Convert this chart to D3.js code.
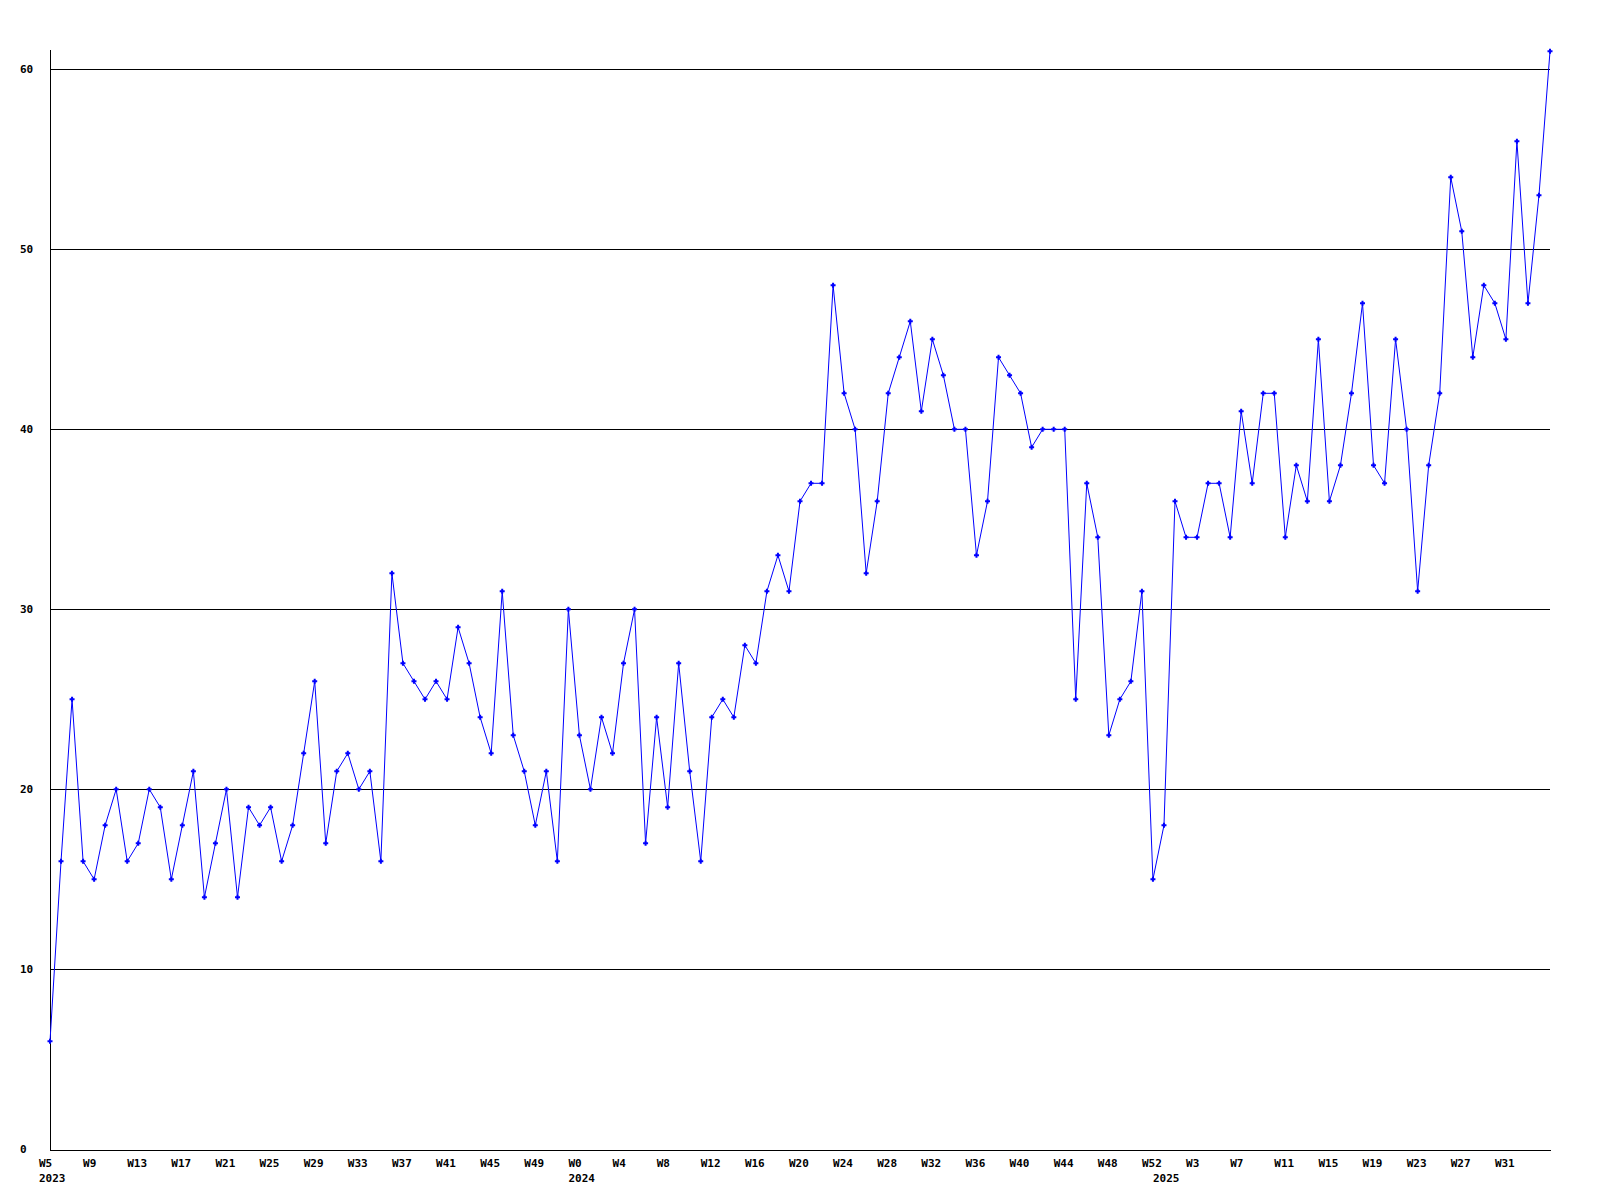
<!DOCTYPE html>
<html>
<head>
<meta charset="utf-8">
<script src="https://cdn.jsdelivr.net/npm/d3@7"></script>
<style>
  html, body { margin: 0; padding: 0; background: #ffffff; }
  svg { display: block; }
  text { font-family: "DejaVu Sans Mono", "Liberation Mono", monospace; font-weight: bold; font-size: 11px; fill: #000; }
</style>
</head>
<body>
<svg id="chart" width="1600" height="1200"></svg>
<script>
// ---- data ----
const years = [2023, 2024, 2025];
const weeks2023 = [5,6,7,8,9,10,11,12,13,14,15,16,17,18,19,20,21,22,23,24,25,26,27,28,29,30,31,32,33,34,35,36,37,38,39,40,41,42,43,44,45,46,47,48,49,50,51,52];
const weeks2024 = [0,1,2,3,4,5,6,7,8,9,10,11,12,13,14,15,16,17,18,19,20,21,22,23,24,25,26,27,28,29,30,31,32,33,34,35,36,37,38,39,40,41,42,43,44,45,46,47,48,49,50,51,52];
const weeks2025 = [0,1,2,3,4,5,6,7,8,9,10,11,12,13,14,15,16,17,18,19,20,21,22,23,24,25,26,27,28,29,30,31,32,33,34,35];

const values2023 = [6,16,25,16,15,18,20,16,17,20,19,15,18,21,14,17,20,14,19,18,19,16,18,22,26,17,21,22,20,21,16,32,27,26,25,26,25,29,27,24,22,31,23,21,18,21,16,30];
const values2024 = [23,20,24,22,27,30,17,24,19,27,21,16,24,25,24,28,27,31,33,31,36,37,37,48,42,40,32,36,42,44,46,41,45,43,40,40,33,36,44,43,42,39,40,40,40,25,37,34,23,25,26,31,15];
const values2025 = [18,36,34,34,37,37,34,41,37,42,42,34,38,36,45,36,38,42,47,38,37,45,40,31,38,42,54,51,44,48,47,45,56,47,53,61];

const yTicks = [0, 10, 20, 30, 40, 50, 60];
const yMax = 61;
const labelEvery = 4;

(function () {
  // ---- build table ----
  const weekLists = [weeks2023, weeks2024, weeks2025];
  const valueLists = [values2023, values2024, values2025];
  const data = [];
  years.forEach((yr, yi) => {
    weekLists[yi].forEach((w, wi) => {
      data.push({ key: yr + "-W" + w, year: yr, week: w, firstOfYear: wi === 0, value: valueLists[yi][wi] });
    });
  });

  // ---- layout ----
  const svg = d3.select("#chart");
  const plotLeft = 50, plotRight = 1550, plotBottom = 1149.3, plotTop = 50;

  const x = d3.scalePoint().domain(data.map(d => d.key)).range([plotLeft, plotRight]);
  const y = d3.scaleLinear().domain([0, yMax]).range([plotBottom, plotBottom - 18 * yMax]);

  // gridlines
  svg.append("g").selectAll("line")
    .data(yTicks.filter(t => t > 0))
    .join("line")
    .attr("x1", plotLeft).attr("x2", plotRight)
    .attr("y1", d => Math.floor(y(d)) + 0.5).attr("y2", d => Math.floor(y(d)) + 0.5)
    .attr("stroke", "#000").attr("stroke-width", 1)
    .attr("shape-rendering", "crispEdges");

  // axes lines
  svg.append("line")
    .attr("x1", plotLeft + 0.5).attr("x2", plotLeft + 0.5)
    .attr("y1", plotTop).attr("y2", 1150.5)
    .attr("stroke", "#000").attr("stroke-width", 1).attr("shape-rendering", "crispEdges");
  svg.append("line")
    .attr("x1", plotLeft).attr("x2", plotRight + 1)
    .attr("y1", 1150.5).attr("y2", 1150.5)
    .attr("stroke", "#000").attr("stroke-width", 1).attr("shape-rendering", "crispEdges");

  // y labels
  svg.append("g").selectAll("text")
    .data(yTicks)
    .join("text")
    .attr("x", 20)
    .attr("y", d => y(d) + 4)
    .text(d => d);

  // x labels (every 4th week; the final point is left unlabelled)
  const xl = svg.append("g");
  xl.selectAll("text.wk")
    .data(data.filter((d, i) => i % labelEvery === 0 && i < data.length - 1))
    .join("text")
    .attr("class", "wk")
    .attr("x", d => x(d.key) - 11)
    .attr("y", 1167)
    .text(d => "W" + d.week);
  xl.selectAll("text.yr")
    .data(data.filter(d => d.firstOfYear))
    .join("text")
    .attr("class", "yr")
    .attr("x", d => x(d.key) - 11)
    .attr("y", 1182)
    .text(d => d.year);

  // line
  const line = d3.line().x(d => x(d.key)).y(d => y(d.value));
  svg.append("path")
    .datum(data)
    .attr("d", line)
    .attr("fill", "none")
    .attr("stroke", "#0000ff")
    .attr("stroke-width", 1);

  // markers
  svg.append("g").selectAll("path")
    .data(data)
    .join("path")
    .attr("transform", d => `translate(${x(d.key)},${y(d.value)})`)
    .attr("d", "M-2.5,-1H-1V-2.5H1V-1H2.5V1H1V2.5H-1V1H-2.5Z")
    .attr("fill", "#0000ff");
})();
</script>
</body>
</html>
